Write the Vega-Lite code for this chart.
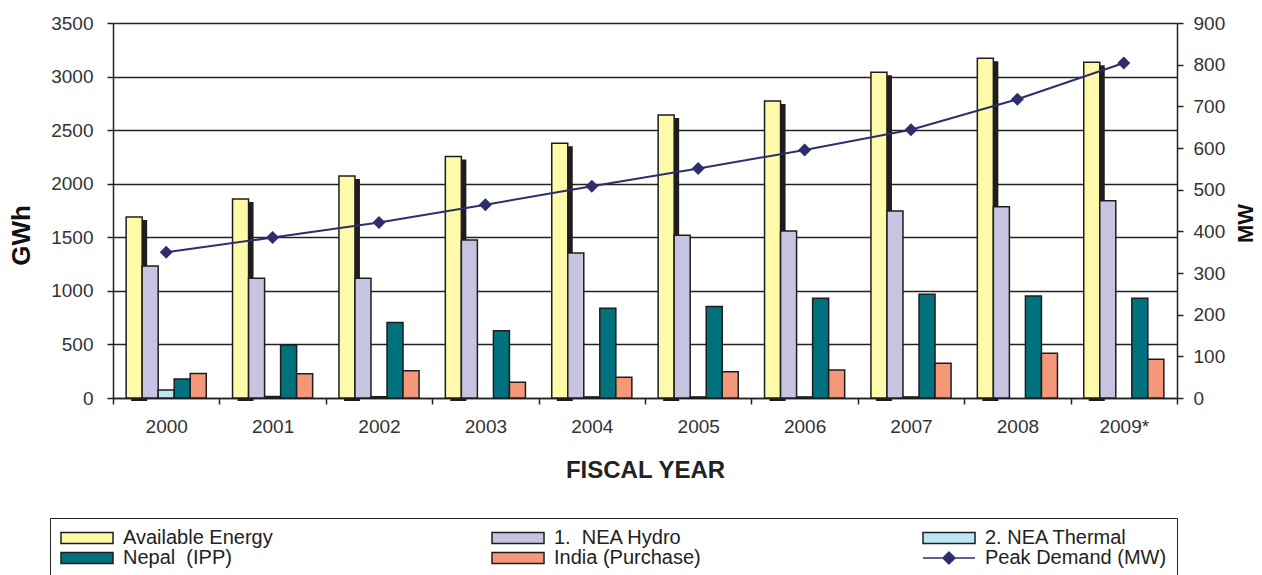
{
  "$schema": "https://vega.github.io/schema/vega-lite/v6.json",
  "width": 1064,
  "height": 375,
  "autosize": {"type": "none"},
  "padding": {"left": 113, "top": 23, "right": 85, "bottom": 177},
  "background": "white",
  "config": {
    "font": "Liberation Sans",
    "view": {"stroke": null},
    "axis": {"labelFont": "Liberation Sans", "titleFont": "Liberation Sans"},
    "legend": {"labelFont": "Liberation Sans"}
  },
  "data": {
    "values": [
      {"year": "2000", "series": "Available Energy", "v": 1690},
      {"year": "2000", "series": "1.\u00a0 NEA Hydro", "v": 1232},
      {"year": "2000", "series": "2. NEA Thermal", "v": 75},
      {"year": "2000", "series": "Nepal\u00a0 (IPP)", "v": 177},
      {"year": "2000", "series": "India (Purchase)", "v": 228},
      {"year": "2000", "series": "Peak Demand (MW)", "v": 350},
      {"year": "2001", "series": "Available Energy", "v": 1858},
      {"year": "2001", "series": "1.\u00a0 NEA Hydro", "v": 1118},
      {"year": "2001", "series": "2. NEA Thermal", "v": 15},
      {"year": "2001", "series": "Nepal\u00a0 (IPP)", "v": 495},
      {"year": "2001", "series": "India (Purchase)", "v": 226},
      {"year": "2001", "series": "Peak Demand (MW)", "v": 385},
      {"year": "2002", "series": "Available Energy", "v": 2073},
      {"year": "2002", "series": "1.\u00a0 NEA Hydro", "v": 1118},
      {"year": "2002", "series": "2. NEA Thermal", "v": 12},
      {"year": "2002", "series": "Nepal\u00a0 (IPP)", "v": 705},
      {"year": "2002", "series": "India (Purchase)", "v": 255},
      {"year": "2002", "series": "Peak Demand (MW)", "v": 421},
      {"year": "2003", "series": "Available Energy", "v": 2253},
      {"year": "2003", "series": "1.\u00a0 NEA Hydro", "v": 1475},
      {"year": "2003", "series": "Nepal\u00a0 (IPP)", "v": 628},
      {"year": "2003", "series": "India (Purchase)", "v": 147},
      {"year": "2003", "series": "Peak Demand (MW)", "v": 464},
      {"year": "2004", "series": "Available Energy", "v": 2378},
      {"year": "2004", "series": "1.\u00a0 NEA Hydro", "v": 1354},
      {"year": "2004", "series": "2. NEA Thermal", "v": 10},
      {"year": "2004", "series": "Nepal\u00a0 (IPP)", "v": 837},
      {"year": "2004", "series": "India (Purchase)", "v": 193},
      {"year": "2004", "series": "Peak Demand (MW)", "v": 508},
      {"year": "2005", "series": "Available Energy", "v": 2642},
      {"year": "2005", "series": "1.\u00a0 NEA Hydro", "v": 1519},
      {"year": "2005", "series": "2. NEA Thermal", "v": 10},
      {"year": "2005", "series": "Nepal\u00a0 (IPP)", "v": 853},
      {"year": "2005", "series": "India (Purchase)", "v": 246},
      {"year": "2005", "series": "Peak Demand (MW)", "v": 551},
      {"year": "2006", "series": "Available Energy", "v": 2773},
      {"year": "2006", "series": "1.\u00a0 NEA Hydro", "v": 1559},
      {"year": "2006", "series": "2. NEA Thermal", "v": 10},
      {"year": "2006", "series": "Nepal\u00a0 (IPP)", "v": 931},
      {"year": "2006", "series": "India (Purchase)", "v": 261},
      {"year": "2006", "series": "Peak Demand (MW)", "v": 595},
      {"year": "2007", "series": "Available Energy", "v": 3041},
      {"year": "2007", "series": "1.\u00a0 NEA Hydro", "v": 1746},
      {"year": "2007", "series": "2. NEA Thermal", "v": 10},
      {"year": "2007", "series": "Nepal\u00a0 (IPP)", "v": 968},
      {"year": "2007", "series": "India (Purchase)", "v": 324},
      {"year": "2007", "series": "Peak Demand (MW)", "v": 644},
      {"year": "2008", "series": "Available Energy", "v": 3171},
      {"year": "2008", "series": "1.\u00a0 NEA Hydro", "v": 1786},
      {"year": "2008", "series": "Nepal\u00a0 (IPP)", "v": 952},
      {"year": "2008", "series": "India (Purchase)", "v": 417},
      {"year": "2008", "series": "Peak Demand (MW)", "v": 717},
      {"year": "2009*", "series": "Available Energy", "v": 3133},
      {"year": "2009*", "series": "1.\u00a0 NEA Hydro", "v": 1842},
      {"year": "2009*", "series": "Nepal\u00a0 (IPP)", "v": 931},
      {"year": "2009*", "series": "India (Purchase)", "v": 361},
      {"year": "2009*", "series": "Peak Demand (MW)", "v": 804}
    ]
  },
  "encoding": {
    "x": {
      "field": "year",
      "type": "nominal",
      "sort": null,
      "scale": {"paddingInner": 0, "paddingOuter": 0},
      "axis": {
        "title": "FISCAL YEAR",
        "titleFontSize": 24,
        "titleFontWeight": "bold",
        "titleColor": "#222",
        "titlePadding": 22,
        "labelAngle": 0,
        "labelFontSize": 19,
        "labelColor": "#333",
        "labelPadding": 13,
        "tickBand": "extent",
        "tickSize": 6,
        "tickWidth": 1.5,
        "tickColor": "#222",
        "domainColor": "#222",
        "domainWidth": 1.5,
        "grid": false
      }
    }
  },
  "layer": [
    {
      "transform": [{"filter": "datum.series === 'Available Energy'"}],
      "mark": {"type": "bar", "color": "#1e1e1e", "yOffset": 3},
      "encoding": {
        "xOffset": {
          "field": "series",
          "type": "nominal",
          "scale": {"domain": ["Available Energy", "1.\u00a0 NEA Hydro", "2. NEA Thermal", "Nepal\u00a0 (IPP)", "India (Purchase)"], "paddingInner": 0, "paddingOuter": 0.82, "align": 0.69}
        },
        "y": {
          "field": "v",
          "type": "quantitative",
          "scale": {"domain": [0, 3500], "nice": false},
          "axis": null
        }
      }
    },
    {
      "transform": [{"filter": "datum.series !== 'Peak Demand (MW)'"}],
      "mark": {"type": "bar", "stroke": "#1e1e1e", "strokeWidth": 1.5, "opacity": 1},
      "encoding": {
        "xOffset": {
          "field": "series",
          "type": "nominal",
          "scale": {"domain": ["Available Energy", "1.\u00a0 NEA Hydro", "2. NEA Thermal", "Nepal\u00a0 (IPP)", "India (Purchase)"], "paddingInner": 0, "paddingOuter": 0.82, "align": 0.5}
        },
        "y": {
          "field": "v",
          "type": "quantitative",
          "scale": {"domain": [0, 3500], "nice": false},
          "axis": {
            "orient": "left",
            "title": "GWh",
            "titleFontSize": 26,
            "titleFontWeight": "bold",
            "titleColor": "#111",
            "titleAngle": -90,
            "titleBaseline": "middle",
            "titleAlign": "center",
            "titleX": -92,
            "titleY": 212,
            "values": [0, 500, 1000, 1500, 2000, 2500, 3000, 3500],
            "format": "d",
            "grid": true,
            "gridColor": "#222",
            "gridWidth": 1.5,
            "labelFontSize": 19,
            "labelColor": "#333",
            "labelPadding": 14,
            "tickSize": 6,
            "tickWidth": 1.5,
            "tickColor": "#222",
            "domainColor": "#222",
            "domainWidth": 1.5
          }
        },
        "color": {
          "field": "series",
          "type": "nominal",
          "scale": {
            "domain": ["Available Energy", "1.\u00a0 NEA Hydro", "2. NEA Thermal", "Nepal\u00a0 (IPP)", "India (Purchase)", "Peak Demand (MW)"],
            "range": ["#FFF9AA", "#C7C4E2", "#BDE5F4", "#00717D", "#F5987A", "#2E2E6E"]
          },
          "legend": {
            "title": null,
            "orient": "none",
            "legendX": -63,
            "legendY": 495,
            "direction": "horizontal",
            "columns": 3,
            "gridAlign": "all",
            "columnPadding": 184,
            "rowPadding": 0,
            "padding": 10,
            "strokeColor": "#222",
            "labelFontSize": 20,
            "labelColor": "#222",
            "labelOffset": 43,
            "labelLimit": 300,
            "symbolSize": 144,
            "symbolType": "M-1.5,-0.9H7.17V0.9H-1.5Z",
            "symbolStrokeColor": "#1e1e1e",
            "symbolStrokeWidth": 1.5,
            "symbolOpacity": 1,
            "encode": {
              "symbols": {
                "update": {
                  "shape": {"signal": "datum.value === 'Peak Demand (MW)' ? 'M-1.5,0H7.17M1.83,0L2.83,-1L3.83,0L2.83,1Z' : 'M-1.5,-0.9H7.17V0.9H-1.5Z'"},
                  "stroke": {"signal": "datum.value === 'Peak Demand (MW)' ? '#2E2E6E' : '#1e1e1e'"}
                }
              }
            }
          }
        }
      }
    },
    {
      "transform": [{"filter": "datum.series === 'Peak Demand (MW)'"}],
      "mark": {
        "type": "line",
        "color": "#2E2E6E",
        "strokeWidth": 2,
        "point": {"shape": "diamond", "size": 170, "filled": true, "color": "#2E2E6E", "opacity": 1}
      },
      "encoding": {
        "y": {
          "field": "v",
          "type": "quantitative",
          "scale": {"domain": [0, 900], "nice": false},
          "axis": {
            "orient": "right",
            "title": "MW",
            "titleFontSize": 22,
            "titleFontWeight": "bold",
            "titleColor": "#111",
            "titleAngle": -90,
            "titleBaseline": "middle",
            "titleAlign": "center",
            "titleX": 68,
            "titleY": 200,
            "values": [0, 100, 200, 300, 400, 500, 600, 700, 800, 900],
            "grid": false,
            "labelFontSize": 19,
            "labelColor": "#333",
            "labelPadding": 10,
            "tickSize": 6,
            "tickWidth": 1.5,
            "tickColor": "#222",
            "domainColor": "#222",
            "domainWidth": 1.5
          }
        }
      }
    }
  ],
  "resolve": {"scale": {"y": "independent", "xOffset": "independent"}}
}
